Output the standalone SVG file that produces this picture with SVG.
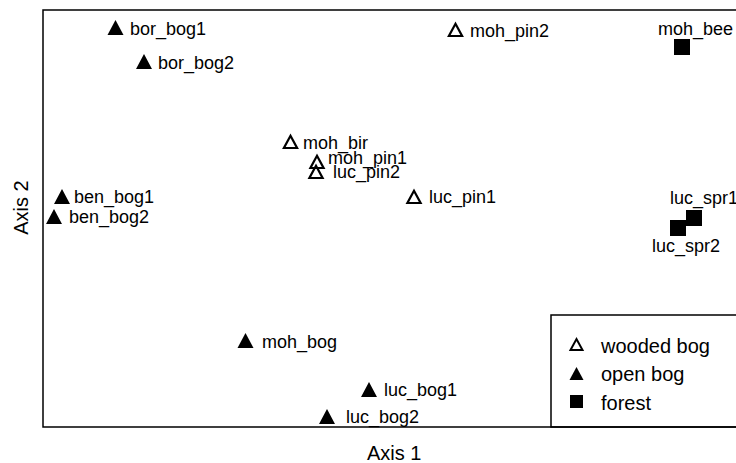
<svg xmlns="http://www.w3.org/2000/svg" width="736" height="463" viewBox="0 0 736 463">
<style>
text{font-family:"Liberation Sans",Arial,sans-serif;fill:#000}
.lb{font-size:18px}
.ax{font-size:20px}
.lg{font-size:20px}
.f{fill:#000}
.o{fill:none;stroke:#000;stroke-width:2.2;stroke-linejoin:miter}
.fr{fill:none;stroke:#000;stroke-width:1.5}
</style>
<defs>
<path id="tf" d="M-8,0 L8,0 L0,-15 Z"/>
<path id="to" d="M-6.6,-1 L6.6,-1 L0,-13.2 Z"/>
</defs>
<rect width="736" height="463" fill="#fff"/>
<g id="frame">
<path class="fr" d="M737,10 L43,10 L43,427 L737,427"/>
</g>
<g id="axis-labels">
<text class="ax" x="367" y="460">Axis 1</text>
<text class="ax" transform="translate(28,207.5) rotate(-90)" text-anchor="middle">Axis 2</text>
</g>
<g id="connectors"></g>
<g id="bor_bog1"><use href="#tf" class="f" x="115.5" y="35"/><text class="lb" x="130" y="35">bor_bog1</text></g>
<g id="bor_bog2"><use href="#tf" class="f" x="144" y="69"/><text class="lb" x="158" y="69">bor_bog2</text></g>
<g id="ben_bog1"><use href="#tf" class="f" x="62" y="204"/><text class="lb" x="74" y="203">ben_bog1</text></g>
<g id="ben_bog2"><use href="#tf" class="f" x="54" y="224"/><text class="lb" x="69" y="223">ben_bog2</text></g>
<g id="moh_bog"><use href="#tf" class="f" x="245.5" y="348"/><text class="lb" x="262" y="348">moh_bog</text></g>
<g id="luc_bog1"><use href="#tf" class="f" x="369" y="397"/><text class="lb" x="384" y="396">luc_bog1</text></g>
<g id="luc_bog2"><use href="#tf" class="f" x="327" y="424"/><text class="lb" x="346" y="423">luc_bog2</text></g>
<g id="moh_bir"><use href="#to" class="o" x="290.5" y="149"/><text class="lb" x="303" y="149">moh_bir</text></g>
<g id="moh_pin1"><use href="#to" class="o" x="317" y="169"/><text class="lb" x="328" y="164">moh_pin1</text></g>
<g id="luc_pin2"><use href="#to" class="o" x="316" y="179"/><text class="lb" x="333" y="178">luc_pin2</text></g>
<g id="moh_pin2"><use href="#to" class="o" x="455.5" y="37"/><text class="lb" x="470" y="37">moh_pin2</text></g>
<g id="luc_pin1"><use href="#to" class="o" x="414" y="204"/><text class="lb" x="429" y="203">luc_pin1</text></g>
<g id="moh_bee"><rect class="f" x="674" y="39" width="16" height="16"/><text class="lb" x="658" y="35">moh_bee</text></g>
<g id="luc_spr1"><rect class="f" x="686" y="210" width="16" height="16"/><text class="lb" x="670" y="204">luc_spr1</text></g>
<g id="luc_spr2"><rect class="f" x="670" y="220" width="16" height="16"/><text class="lb" x="652" y="252">luc_spr2</text></g>
<g id="legend">
<rect class="fr" x="551" y="315" width="200" height="112"/>
<path class="o" d="M570.5,350 L582.5,350 L576.5,339 Z" style="stroke-width:2"/>
<text class="lg" x="601" y="353">wooded bog</text>
<path class="f" d="M569.5,380 L583.5,380 L576.5,367 Z"/>
<text class="lg" x="601" y="381">open bog</text>
<rect class="f" x="570" y="395" width="13" height="13"/>
<text class="lg" x="601" y="410">forest</text>
</g>
</svg>
